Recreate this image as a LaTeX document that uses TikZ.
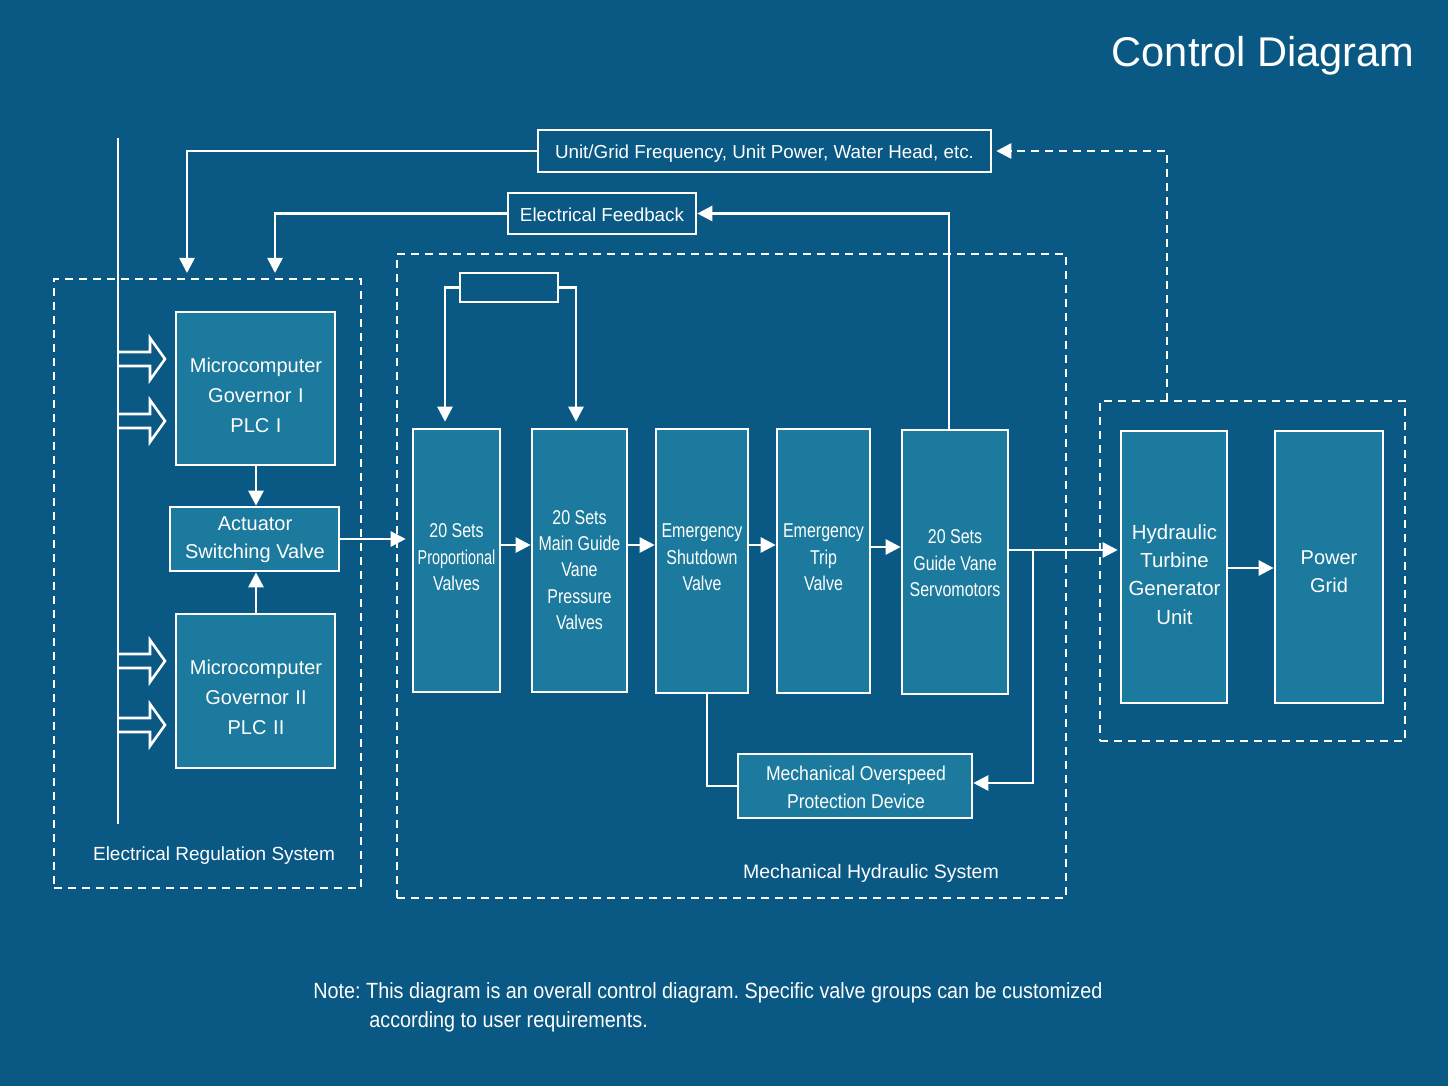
\documentclass[tikz,border=0pt]{standalone}
\usepackage{fontspec}
\setmainfont{Liberation Sans}
\newfontfamily\narrowA[FakeStretch=0.8]{Liberation Sans}
\newfontfamily\narrowB[FakeStretch=0.88]{Liberation Sans}
\newfontfamily\narrowC[FakeStretch=0.72]{Liberation Sans}
\newfontfamily\narrowD[FakeStretch=0.9]{Liberation Sans}
\usetikzlibrary{arrows.meta,calc}
\definecolor{bgblue}{HTML}{0A5884}
\definecolor{boxfill}{HTML}{1B7A9D}
\tikzset{
  wline/.style={draw=white, line width=1.3pt},
  arr/.style={wline, -{Triangle[length=7.5pt,width=7.5pt]}},
  dasharr/.style={arr, dash pattern=on 4pt off 3pt},
  box/.style={wline, fill=boxfill, text=white, align=center, inner sep=0pt,
    font=\fontsize{10pt}{14pt}\selectfont},
  lbox/.style={wline, fill=bgblue, text=white, align=center, inner sep=0pt,
    font=\fontsize{9.4pt}{12pt}\selectfont},
  grp/.style={draw=white, line width=1.1pt, dash pattern=on 4pt off 3pt, inner sep=0pt},
  lbl/.style={text=white, inner sep=0pt, align=center},
  vtxt/.style={lbl, font=\narrowA\fontsize{10pt}{13.2pt}\selectfont},
  hollow/.style={wline, line join=miter},
}
\begin{document}
\frenchspacing
\begin{tikzpicture}[x=0.5pt,y=-0.5pt]
\fill[bgblue] (0,0) rectangle (1448,1086);
\useasboundingbox (0,0) rectangle (1448,1086);

% title
\node[lbl, anchor=east, font=\fontsize{20.8pt}{24pt}\selectfont] (title) at (1415,56) {Control Diagram};

% group boxes
\node[grp, minimum width=153.5pt, minimum height=304.5pt] (ers) at (207.5,583.5) {};
\node[grp, minimum width=334.5pt, minimum height=322pt] (mhs) at (731.5,576) {};
\node[grp, minimum width=152.5pt, minimum height=170pt] (hgs) at (1252.5,571) {};
\node[lbl, font=\fontsize{9.5pt}{12pt}\selectfont] (ersl) at (214,856) {Electrical Regulation System};
\node[lbl, font=\fontsize{9.75pt}{12pt}\selectfont] (mhsl) at (871,873) {Mechanical Hydraulic System};

% top info boxes
\node[lbox, minimum width=226.5pt, minimum height=21pt] (uf) at (764.5,151) {};
\node[lbl, font=\fontsize{9.4pt}{12pt}\selectfont] (uft) at (764.5,154) {Unit/Grid Frequency, Unit Power, Water Head, etc.};
\node[lbox, minimum width=94pt, minimum height=20.5pt] (ef) at (602,213.5) {};
\node[lbl, font=\fontsize{9.4pt}{12pt}\selectfont] (eft) at (602,215) {Electrical Feedback};

% electrical regulation system
\node[box, minimum width=79.5pt, minimum height=76.5pt] (gov1) at (255.5,388.5) {};
\node[lbl, font=\fontsize{10pt}{15pt}\selectfont] (gov1t) at (256,395) {Microcomputer\\Governor\,\,I\\PLC\,\,I};
\node[box, minimum width=84.5pt, minimum height=32pt] (act) at (254.5,539) {};
\node[lbl, font=\fontsize{10pt}{14pt}\selectfont] (actt) at (255,540) {Actuator\\Switching Valve};
\node[box, minimum width=79.5pt, minimum height=77pt] (gov2) at (255.5,691) {};
\node[lbl, font=\fontsize{10pt}{15pt}\selectfont] (gov2t) at (256,697) {Microcomputer\\Governor\,\,II\\PLC\,\,II};

% mechanical hydraulic system
\node[box, minimum width=43.5pt, minimum height=131.5pt] (pv) at (456.5,560.5) {};
\node[vtxt] (pvt) at (456.5,557.5) {20 Sets\\{\narrowC Proportional}\\Valves};
\node[box, minimum width=47.5pt, minimum height=131.5pt] (mg) at (579.5,560.5) {};
\node[vtxt] (mgt) at (579.5,570) {20 Sets\\Main Guide\\Vane\\Pressure\\Valves};
\node[box, minimum width=46pt, minimum height=132pt] (esv) at (702,561) {};
\node[vtxt] (esvt) at (702,557.5) {Emergency\\Shutdown\\Valve};
\node[box, minimum width=46.5pt, minimum height=132pt] (etv) at (823.5,561) {};
\node[vtxt] (etvt) at (823.5,557.5) {Emergency\\Trip\\Valve};
\node[box, minimum width=53pt, minimum height=132pt] (servo) at (955,562) {};
\node[vtxt] (servot) at (955,563.5) {20 Sets\\Guide Vane\\Servomotors};
\node[box, minimum width=117pt, minimum height=32pt] (mop) at (855,786) {};
\node[lbl, font=\narrowB\fontsize{10pt}{14pt}\selectfont] (mopt) at (856,787) {Mechanical Overspeed\\Protection Device};
\node[wline, minimum width=49pt, minimum height=14.5pt, inner sep=0pt] (tb) at (509,287.5) {};

% generator group
\node[box, minimum width=53pt, minimum height=136pt] (htg) at (1174,567) {};
\node[lbl, font=\fontsize{10.2pt}{14.2pt}\selectfont] (htgt) at (1174.5,574.5) {Hydraulic\\Turbine\\Generator\\Unit};
\node[box, minimum width=54pt, minimum height=136pt] (pg) at (1329,567) {};
\node[lbl, font=\fontsize{10pt}{14pt}\selectfont] (pgt) at (1329,572) {Power\\Grid};

% bus line and hollow arrows
\coordinate (bt) at (118,138);
\coordinate (bb) at (118,824);
\draw[wline] (bt) -- (bb);
\foreach \c in {359,421,661,725}{
  \draw[hollow] (118,\c-7) -- (150,\c-7) -- (150,\c-21) -- (165,\c) -- (150,\c+21) -- (150,\c+7) -- (118,\c+7);
}

% feedback connectors
\coordinate (e1) at (187,273);
\coordinate (e2) at (275,273);
\draw[arr] (uf.west) -| (e1);
\draw[arr] (ef.west) -| (e2);
\coordinate (sx) at (949,0);
\draw[arr] (servo.north -| sx) |- (ef.east);
\coordinate (hx) at (1167,401);
\draw[dasharr, shorten >=2pt] (hx) |- (uf.east);

% electrical group connectors
\coordinate (ax) at (256,0);
\draw[arr] (gov1.south -| ax) -- (act.north -| ax);
\draw[arr] (gov2.north -| ax) -- (act.south -| ax);
\draw[arr, shorten >=3pt] (act.east) -- (act.east -| pv.west);

% top small box connectors
\coordinate (c1) at (445,0);
\coordinate (c2) at (576,0);
\draw[arr, shorten >=3pt] (tb.west) -| (c1 |- pv.north);
\draw[arr, shorten >=3pt] (tb.east) -| (c2 |- mg.north);

% valve chain
\coordinate (r) at (0,545);
\draw[arr] (pv.east |- r) -- (mg.west |- r);
\draw[arr] (mg.east |- r) -- (esv.west |- r);
\draw[arr] (esv.east |- r) -- (etv.west |- r);
\coordinate (r2) at (0,547);
\draw[arr] (etv.east |- r2) -- (servo.west |- r2);
\coordinate (r3) at (0,550);
\draw[arr, shorten >=1pt] (servo.east |- r3) -- (htg.west |- r3);
\coordinate (br) at (1033,550);
\coordinate (r4) at (0,783);
\draw[arr] (br) |- (mop.east |- r4);
\coordinate (eb) at (707,0);
\draw[wline] (esv.south -| eb) |- (mop.west);

% generator to grid
\coordinate (r5) at (0,568);
\draw[arr] (htg.east |- r5) -- (pg.west |- r5);

% note
\node[lbl, anchor=west, font=\narrowD\fontsize{11pt}{14pt}\selectfont] (note1) at (313,993) {Note: This diagram is an overall control diagram. Specific valve groups can be customized};
\node[lbl, anchor=west, font=\narrowD\fontsize{11pt}{14pt}\selectfont] (note2) at (369,1022) {according to user requirements.};
\end{tikzpicture}
\end{document}
